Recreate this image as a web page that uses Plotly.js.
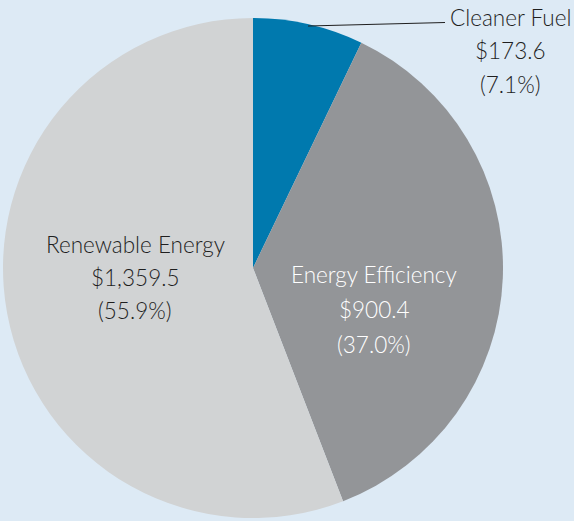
<!DOCTYPE html>
<html><head><meta charset="utf-8">
<script src="https://cdn.plot.ly/plotly-3.0.1.min.js"></script>
<style>html,body{margin:0;padding:0;background:#ddeaf5;}</style>
</head><body><div id="chart" style="width:574px;height:521px;"></div>
<script>
const labels = ["Cleaner Fuel", "Energy Efficiency", "Renewable Energy"];
const values = [173.6, 900.4, 1359.5];
const valueText = ["$173.6", "$900.4", "$1,359.5"];
const percentText = ["(7.1%)", "(37.0%)", "(55.9%)"];
const colors = ["#0079ae", "#939598", "#d1d3d4"];
const textColors = ["#1f1f1f", "#ffffff", "#1f1f1f"];
// label anchor positions (px) for each slice: x center, first-line y, line step
const labelPos = [[510, 17, 33.5], [374, 274, 35], [135, 244, 33]];

const W = 574, H = 521;
const annotations = [];
labels.forEach((lab, i) => {
  const [cx, y0, step] = labelPos[i];
  [lab, valueText[i], percentText[i]].forEach((t, j) => {
    annotations.push({
      text: t, xref: "paper", yref: "paper",
      x: cx / W, y: 1 - (y0 + j * step) / H,
      xanchor: "center", yanchor: "middle", showarrow: false,
      font: {family: "Lato", size: 22.5, weight: 300, color: textColors[i]}
    });
  });
});

const trace = {
  type: "pie", labels: labels, values: values, sort: false,
  direction: "clockwise", rotation: 0,
  marker: {colors: colors, line: {width: 0}},
  textinfo: "none", hoverinfo: "none", showlegend: false,
  domain: {x: [3 / W, 503 / W], y: [3 / H, 503 / H]}
};

const layout = {
  width: W, height: H,
  margin: {l: 0, r: 0, t: 0, b: 0},
  paper_bgcolor: "#ddeaf5", plot_bgcolor: "#ddeaf5",
  annotations: annotations,
  shapes: [{type: "line", xref: "paper", yref: "paper",
    x0: 308 / W, y0: 1 - 26 / H, x1: 445 / W, y1: 1 - 22.5 / H,
    line: {color: "#1f1f1f", width: 1.2}}]
};
Plotly.newPlot("chart", [trace], layout, {displayModeBar: false, staticPlot: true});
</script></body></html>
